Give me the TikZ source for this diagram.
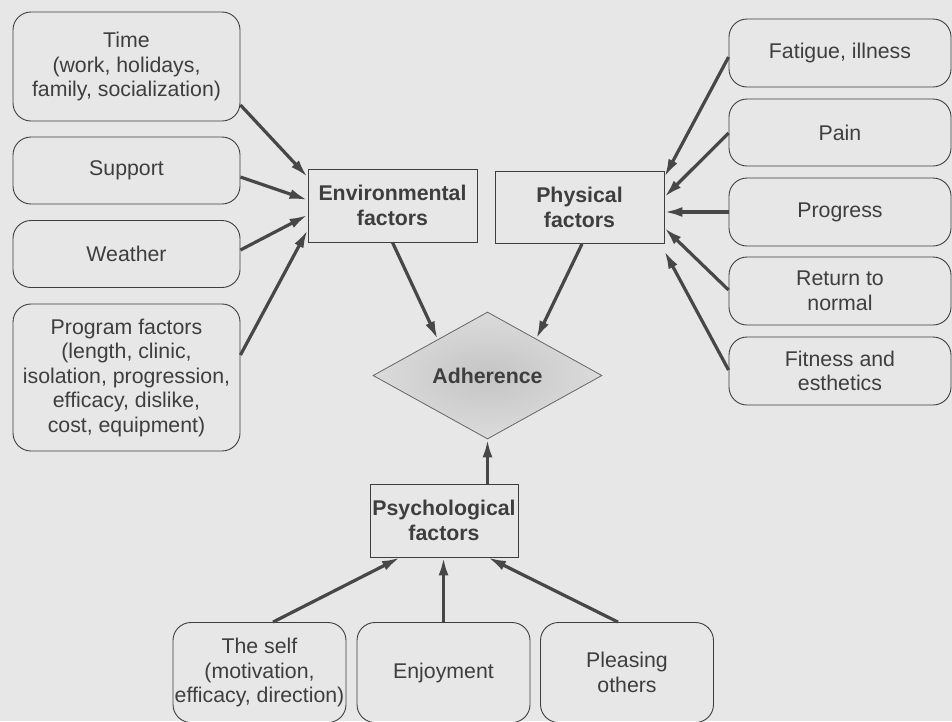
\documentclass[tikz,border=0pt]{standalone}
\usepackage{fontspec}
\setmainfont{Liberation Sans}
\usetikzlibrary{shapes.geometric,arrows.meta}
\definecolor{bg}{HTML}{E7E7E7}
\definecolor{ink}{HTML}{3E3E3E}
\definecolor{arrowc}{HTML}{474747}
\tikzset{
  every node/.style={font=\fontsize{21.3}{24.5}\selectfont, text=ink, align=center, inner sep=0pt},
  item/.style={draw=ink, line width=0.9pt, rounded corners=18pt},
  factor/.style={draw=ink, line width=0.9pt, font=\fontsize{21.3}{24.5}\selectfont\bfseries},
  arr/.style={draw=arrowc, line width=3.2pt, -{Latex[length=18pt,width=10pt]}},
}
\begin{document}
\begin{tikzpicture}[x=1pt,y=-1pt]
\fill[bg] (0,0) rectangle (952,721);
\useasboundingbox (0,0) rectangle (952,721);

% environmental side
\node[item, minimum width=227pt, minimum height=109pt] (time) at (126.5,66.5) {Time\\(work, holidays,\\family, socialization)};
\node[item, minimum width=227pt, minimum height=67pt] (support) at (126.5,170.5) {Support};
\node[item, minimum width=227pt, minimum height=67pt] (weather) at (126.5,254) {Weather};
\node[item, minimum width=227pt, minimum height=147pt] (program) at (126.5,377.5) {Program factors\\(length, clinic,\\isolation, progression,\\efficacy, dislike,\\cost, equipment)};

% factor boxes
\node[factor, minimum width=169pt, minimum height=73pt] (env) at (392.5,205.5) {Environmental\\factors};
\node[factor, minimum width=169pt, minimum height=72pt] (phys) at (579.5,207.5) {Physical\\factors};
\node[factor, minimum width=148pt, minimum height=73pt] (psych) at (444,520.5) {Psychological\\factors};

% central decision
\node[diamond, draw=ink!80, line width=0.8pt, shading=radial, inner color=black!23, outer color=black!14,
      minimum width=229pt, minimum height=127pt, font=\fontsize{21.3}{24.5}\selectfont\bfseries] (adh) at (487.5,375.5) {Adherence};

% physical side
\node[item, minimum width=222pt, minimum height=68pt] (fatigue) at (840,53) {Fatigue, illness};
\node[item, minimum width=222pt, minimum height=67pt] (pain) at (840,132.5) {Pain};
\node[item, minimum width=222pt, minimum height=68pt] (progress) at (840,212) {Progress};
\node[item, minimum width=222pt, minimum height=68pt] (return) at (840,291) {Return to\\normal};
\node[item, minimum width=222pt, minimum height=68pt] (fitness) at (840,371) {Fitness and\\esthetics};

% psychological side
\node[item, minimum width=173pt, minimum height=100pt] (self) at (259.5,672.5) {The self\\(motivation,\\efficacy, direction)};
\node[item, minimum width=173pt, minimum height=100pt] (enjoy) at (443.5,672.5) {Enjoyment};
\node[item, minimum width=173pt, minimum height=100pt] (pleasing) at (627,672.5) {Pleasing\\others};

% connectors into environmental factors
\draw[arr] (time.east |- 0,105) -- (env.west |- 0,177);
\draw[arr] (support.east |- 0,177) -- (env.west |- 0,200);
\draw[arr] (weather.east |- 0,250) -- (env.west |- 0,215);
\draw[arr] (program.east |- 0,355) -- (env.west |- 0,230);

% connectors into physical factors
\draw[arr] (fatigue.west |- 0,57) -- (phys.east |- 0,177);
\draw[arr] (pain.west |- 0,133) -- (phys.east |- 0,197);
\draw[arr] (progress.west) -- (phys.east |- 0,212);
\draw[arr] (return.west |- 0,290) -- (phys.east |- 0,228);
\draw[arr] (fitness.west |- 0,370) -- (phys.east |- 0,251);

% connectors into adherence
\draw[arr] (env.south) -- (adh.144);
\draw[arr] (phys.south -| 582,0) -- (adh.37);
\draw[arr] (psych.north -| adh.south) -- (adh.south);

% connectors into psychological factors
\draw[arr] (self.north -| 273,0) -- (psych.south -| 400,0);
\draw[arr] (enjoy.north) -- (psych.south -| 443.5,0);
\draw[arr] (pleasing.north -| 618,0) -- (psych.south -| 488,0);
\end{tikzpicture}
\end{document}
